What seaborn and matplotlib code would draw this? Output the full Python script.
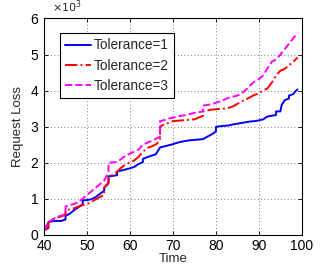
import matplotlib
matplotlib.use("Agg")
import matplotlib.pyplot as plt
import seaborn as sns
import pandas as pd

# Data (values in thousands)
t1 = [40, 41, 41, 42, 43, 44, 45, 45, 46, 47, 48, 49, 49, 50, 51, 52, 53, 54, 54, 55, 55, 56, 57, 57, 58, 59, 60, 61, 62, 63, 63, 64, 65, 66, 67, 68, 69, 70, 71, 72, 73, 74, 75, 76, 77, 78, 79, 80, 80, 81, 82, 83, 84, 85, 86, 87, 88, 89, 90, 91, 92, 93, 94, 94, 95, 95.3, 96, 97, 97, 98, 98.5, 99]
v1 = [0.12, 0.18, 0.35, 0.37, 0.38, 0.38, 0.42, 0.52, 0.58, 0.68, 0.76, 0.84, 0.95, 0.96, 0.98, 1.04, 1.13, 1.22, 1.3, 1.42, 1.62, 1.63, 1.65, 1.75, 1.78, 1.81, 1.84, 1.88, 1.96, 2.01, 2.1, 2.15, 2.19, 2.23, 2.42, 2.45, 2.48, 2.51, 2.55, 2.58, 2.6, 2.62, 2.63, 2.64, 2.65, 2.72, 2.78, 2.86, 2.99, 3.01, 3.02, 3.03, 3.06, 3.08, 3.1, 3.12, 3.14, 3.15, 3.17, 3.2, 3.28, 3.3, 3.32, 3.42, 3.42, 3.6, 3.73, 3.78, 3.86, 3.9, 3.98, 4.03]

t2 = [40, 41, 41, 42, 43, 44, 45, 45, 46, 47, 48, 49, 50, 51, 52, 53, 54, 54, 55, 55, 56, 57, 58, 59, 60, 61, 62, 63, 64, 65, 66, 67, 67, 68, 69, 70, 71, 72, 73, 74, 75, 76, 77, 77, 78, 79, 80, 81, 82, 83, 84, 85, 86, 87, 88, 89, 90, 91, 92, 93, 94, 95, 96, 97, 98, 99]
v2 = [0.12, 0.2, 0.33, 0.42, 0.48, 0.5, 0.55, 0.68, 0.7, 0.73, 0.78, 0.82, 0.85, 0.9, 0.98, 1.04, 1.1, 1.3, 1.45, 1.6, 1.66, 1.75, 1.86, 1.95, 2.0, 2.06, 2.16, 2.3, 2.4, 2.45, 2.5, 2.62, 3.0, 3.06, 3.1, 3.15, 3.16, 3.17, 3.18, 3.19, 3.2, 3.25, 3.3, 3.42, 3.45, 3.47, 3.48, 3.49, 3.5, 3.52, 3.56, 3.63, 3.7, 3.75, 3.82, 3.88, 3.92, 4.0, 4.06, 4.22, 4.42, 4.55, 4.6, 4.7, 4.8, 4.92]

t3 = [40, 41, 42, 43, 44, 45, 45, 46, 47, 48, 49, 50, 51, 52, 53, 54, 54.5, 55, 55, 56, 57, 58, 59, 60, 61, 62, 63, 64, 65, 66, 67, 67, 68, 69, 70, 71, 72, 73, 74, 75, 76, 77, 77, 78, 79, 80, 81, 82, 83, 84, 85, 86, 87, 88, 89, 90, 91, 92, 93, 94, 95, 96, 97, 98, 99]
v3 = [0.12, 0.35, 0.42, 0.5, 0.52, 0.58, 0.78, 0.82, 0.85, 0.9, 1.0, 1.1, 1.2, 1.3, 1.4, 1.5, 1.62, 1.75, 2.0, 2.0, 2.02, 2.1, 2.2, 2.25, 2.3, 2.36, 2.5, 2.55, 2.6, 2.66, 2.72, 3.15, 3.18, 3.22, 3.25, 3.28, 3.3, 3.32, 3.35, 3.38, 3.4, 3.42, 3.58, 3.6, 3.62, 3.66, 3.7, 3.75, 3.8, 3.83, 3.86, 3.92, 4.02, 4.15, 4.25, 4.32, 4.42, 4.62, 4.8, 4.86, 5.0, 5.15, 5.3, 5.45, 5.6]

labels = ["Tolerance=1", "Tolerance=2", "Tolerance=3"]
xticks = [40, 50, 60, 70, 80, 90, 100]
yticks = [0, 1, 2, 3, 4, 5, 6]

frames = []
for lab, t, v in zip(labels, [t1, t2, t3], [v1, v2, v3]):
    frames.append(pd.DataFrame({"Time": t, "Loss": v, "series": lab}))
df = pd.concat(frames, ignore_index=True)

sns.set_style("white")
plt.rcParams['font.family'] = ['Liberation Sans', 'DejaVu Sans']

fig = plt.figure(figsize=(3.31, 2.76), dpi=100)
ax = fig.add_axes([0.133, 0.150, 0.779, 0.783])

palette = {"Tolerance=1": (0, 0, 1), "Tolerance=2": (1, 0, 0), "Tolerance=3": (1, 0, 1)}
styles = {"Tolerance=1": "-", "Tolerance=2": "-.", "Tolerance=3": "--"}
for lab in labels:
    sub = df[df.series == lab]
    sns.lineplot(data=sub, x="Time", y="Loss", ax=ax, color=palette[lab],
                 linestyle=styles[lab], linewidth=1.4, estimator=None, sort=False,
                 label=lab)

ax.set_xlim(40, 100)
ax.set_ylim(0, 6)
ax.set_xticks(xticks)
ax.set_yticks(yticks)
ax.set_xticklabels([str(x) for x in xticks], fontsize=10)
ax.set_yticklabels([str(y) for y in yticks], fontsize=10)
ax.tick_params(axis="x", direction="in", length=3, width=0.6, pad=3, top=True, bottom=True, colors="black")
ax.tick_params(axis="y", direction="in", length=3, width=0.6, pad=4, left=True, right=True, colors="black")
ax.grid(True, linestyle=(0, (1, 3)), color="#555555", linewidth=0.6)
for s in ax.spines.values():
    s.set_visible(True)
    s.set_color("black")
    s.set_linewidth(0.8)
ax.set_xlabel("Time", fontsize=9.5, labelpad=0)
ax.set_ylabel("Request Loss", fontsize=9.5, labelpad=5)
ax.text(0.03, 1.015, r"$\times10^3$", transform=ax.transAxes, fontsize=8, va="bottom", ha="left")

leg = ax.legend(loc="upper left", bbox_to_anchor=(0.062, 0.933), fontsize=9.8,
                frameon=True, fancybox=False, handlelength=1.9, borderpad=0.4,
                labelspacing=0.45, handletextpad=0.2, borderaxespad=0)
leg.get_frame().set_edgecolor("black")
leg.get_frame().set_linewidth(0.8)
leg.get_frame().set_alpha(1)

fig.savefig("out.png", dpi=100)
